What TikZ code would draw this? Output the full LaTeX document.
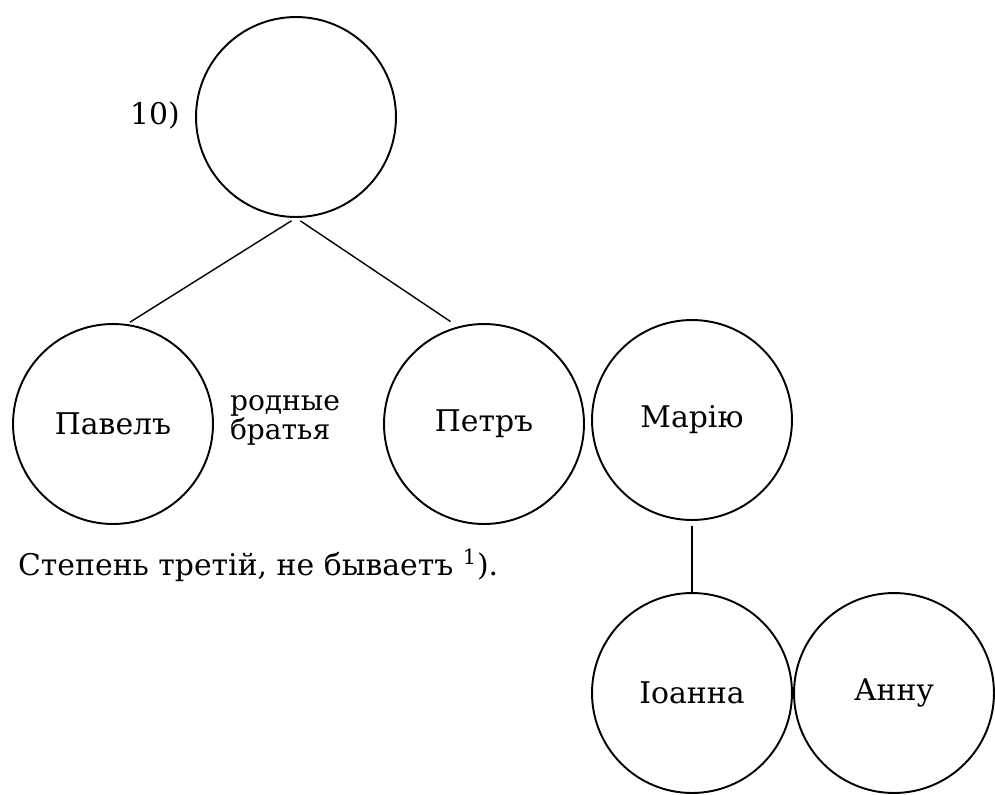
\documentclass[tikz,border=0pt]{standalone}
\usepackage{fontspec}
\setmainfont{DejaVu Serif}
\usetikzlibrary{positioning}
\tikzset{
  every node/.style={font=\fontsize{17}{20}\selectfont},
  person/.style={circle,draw,line width=1.1pt,minimum size=4cm,inner sep=0pt},
  tie/.style={line width=0.8pt},
  lab/.style={inner sep=1pt},
  kin/.style={lab,align=left,font=\fontsize{16}{16.5}\selectfont},
}

\begin{document}
\begin{tikzpicture}[x=0.02cm,y=-0.02cm]
\useasboundingbox (0,0) rectangle (995,795);
% upper generation
\node[person] (top) at (296,117) {};
\node[lab] (num) at (155,115) {10)};

% brothers and the wife
\node[person] (pavel) at (113,424) {Павелъ};
\node[kin] (kin) at (285,420) {родные\\братья};
\node[person] (petr) at (484,424) {Петръ};
\node[person] (maria) at (692,420) {Марію};
\node[lab,anchor=west] (note) at (16,565) {Степень третій, не бываетъ \textsuperscript{1}).};

% lower generation
\node[person] (ioanna) at (692,693) {Іоанна};
\node[person] (annu) at (894,693) {Анну};

\draw[tie,shorten <=3pt,shorten >=2pt] (top.south) -- (pavel.82);
\draw[tie,shorten <=3pt,shorten >=5pt] (top.south) -- (petr.105);
\draw[tie,shorten <=3pt] (maria.south) -- (ioanna.north);
\end{tikzpicture}
\end{document}
